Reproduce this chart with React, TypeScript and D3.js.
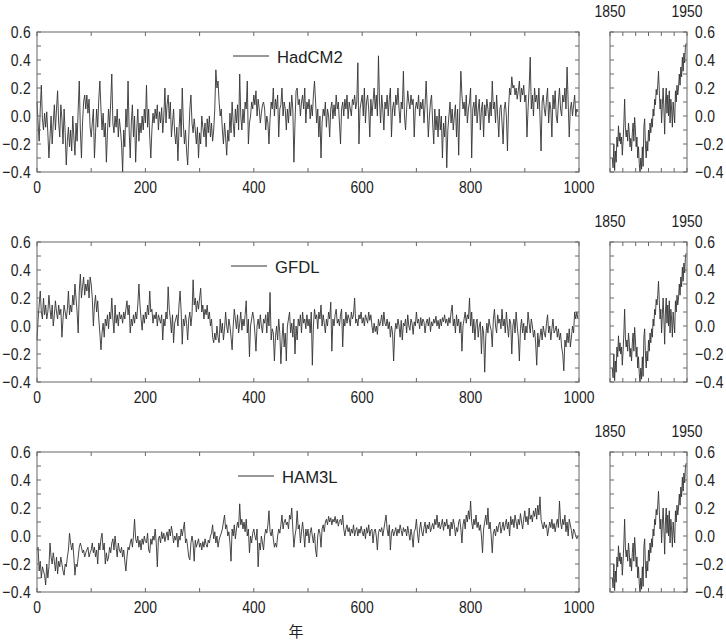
import React from "react";
import * as d3 from "d3";

// Model control runs, sampled every 2 model years (0..998), global mean temperature anomaly (°C)
const years = d3.range(0, 1000, 2);

const hadcm2 = [
  0.10, -0.05, -0.18, 0.05, 0.22, -0.02, -0.10, 0.02, -0.08, 0.03,
  -0.12, -0.30, -0.15, 0.00, -0.20, -0.05, 0.08, -0.10, 0.05, 0.18,
  -0.05, -0.15, 0.08, -0.02, -0.20, 0.05, -0.12, -0.35, -0.18, -0.08,
  -0.22, -0.10, -0.25, 0.00, -0.15, -0.28, -0.05, -0.18, 0.05, 0.25,
  -0.10, -0.30, -0.05, 0.10, 0.15, 0.05, 0.15, 0.02, 0.12, -0.08,
  -0.15, -0.05, 0.05, -0.30, -0.12, 0.05, -0.08, 0.12, 0.25, 0.05,
  -0.10, 0.02, -0.15, -0.05, -0.33, -0.12, 0.05, -0.08, 0.10, 0.30,
  -0.05, -0.12, 0.00, -0.08, 0.05, -0.15, -0.02, -0.10, -0.20, -0.40,
  -0.10, -0.22, 0.05, -0.08, 0.25, -0.10, -0.30, -0.05, 0.08, -0.15,
  0.00, -0.33, -0.10, 0.05, -0.18, -0.05, -0.12, 0.00, -0.10, 0.05,
  -0.05, 0.22, -0.08, 0.05, -0.15, -0.30, -0.10, 0.02, -0.05, 0.05,
  -0.02, 0.08, -0.10, 0.03, -0.05, 0.06, -0.12, 0.00, 0.20, -0.05,
  0.08, 0.15, -0.02, 0.10, -0.15, -0.05, 0.05, -0.12, -0.20, -0.08,
  -0.32, -0.10, 0.05, -0.15, 0.20, -0.05, -0.20, -0.10, -0.25, -0.35,
  -0.15, 0.05, 0.15, -0.05, -0.12, -0.02, -0.10, -0.20, -0.08, -0.30,
  -0.12, -0.20, 0.00, -0.08, -0.15, -0.05, -0.22, -0.02, -0.12, 0.00,
  -0.15, -0.05, -0.18, -0.10, 0.05, 0.33, 0.20, 0.25, 0.10, 0.00,
  0.05, -0.10, -0.20, -0.05, -0.15, -0.28, -0.10, -0.18, 0.02, -0.12,
  0.10, -0.05, -0.15, 0.05, -0.05, 0.08, -0.10, 0.30, 0.00, -0.10,
  0.05, -0.05, 0.10, 0.05, 0.25, -0.20, -0.05, 0.00, 0.10, 0.05,
  0.15, 0.08, 0.18, 0.00, 0.12, 0.05, -0.05, 0.02, 0.08, 0.10,
  0.05, -0.10, 0.00, -0.05, -0.20, -0.02, 0.10, 0.05, 0.20, 0.00,
  0.12, 0.05, 0.15, -0.15, 0.05, 0.08, 0.20, 0.00, 0.10, 0.05,
  -0.10, 0.05, -0.05, 0.10, 0.00, 0.15, 0.05, -0.33, -0.05, 0.18,
  0.20, 0.08, 0.12, 0.00, 0.10, 0.15, 0.05, 0.20, -0.05, 0.10,
  0.05, 0.12, -0.02, 0.08, 0.00, 0.15, 0.25, 0.10, -0.05, 0.05,
  -0.15, 0.00, -0.30, -0.05, 0.05, 0.00, 0.10, -0.08, 0.05, 0.00,
  -0.15, 0.05, 0.10, -0.02, 0.08, 0.00, 0.15, 0.05, 0.10, -0.05,
  -0.20, 0.05, 0.10, 0.00, 0.12, 0.05, 0.15, -0.02, 0.10, 0.05,
  0.00, 0.12, 0.08, 0.15, 0.05, 0.10, 0.38, -0.20, 0.05, 0.10,
  0.15, 0.00, 0.20, -0.05, 0.10, 0.15, 0.05, -0.15, 0.12, 0.00,
  0.10, 0.20, 0.05, 0.15, 0.00, 0.43, 0.10, -0.05, 0.15, 0.05,
  -0.10, 0.10, 0.05, 0.15, 0.00, 0.12, 0.20, -0.15, 0.05, 0.10,
  0.00, 0.15, 0.08, 0.20, 0.05, -0.05, 0.10, 0.05, 0.32, 0.00,
  -0.10, 0.05, 0.18, 0.10, 0.05, 0.15, 0.08, 0.12, -0.15, 0.05,
  0.10, 0.05, 0.15, 0.00, 0.10, 0.05, 0.12, -0.05, 0.08, 0.25,
  0.05, -0.15, 0.00, 0.10, 0.15, -0.05, -0.20, 0.05, -0.10, 0.00,
  -0.15, 0.05, -0.10, 0.00, -0.30, -0.05, -0.15, 0.00, -0.37, -0.10,
  0.00, 0.10, -0.05, 0.05, -0.10, 0.00, 0.08, -0.15, 0.05, -0.28,
  0.05, 0.32, 0.15, 0.05, 0.10, 0.00, 0.15, -0.05, 0.05, 0.10,
  0.20, -0.30, 0.05, 0.10, 0.00, 0.15, -0.05, 0.05, 0.12, -0.10,
  0.05, 0.10, -0.15, 0.08, 0.00, 0.12, 0.05, -0.05, 0.10, 0.00,
  0.25, 0.05, 0.10, -0.05, 0.15, 0.00, -0.15, 0.05, 0.08, -0.05,
  -0.20, 0.05, 0.10, 0.00, -0.25, 0.05, 0.20, 0.15, 0.28, 0.20,
  0.22, 0.15, 0.20, 0.12, 0.18, 0.25, 0.10, 0.20, 0.15, 0.22,
  0.10, 0.15, -0.15, 0.05, 0.20, 0.42, 0.05, 0.15, 0.00, 0.20,
  0.10, 0.15, 0.05, 0.20, 0.00, -0.25, 0.10, 0.15, 0.05, 0.00,
  0.12, 0.20, -0.05, 0.10, 0.05, -0.15, 0.15, 0.05, 0.18, 0.00,
  -0.05, 0.10, 0.20, 0.05, 0.00, 0.15, 0.10, 0.20, 0.05, 0.35,
  0.10, -0.15, 0.05, 0.10, 0.00, 0.08, 0.15, 0.00, 0.05, 0.03,
];

const gfdl = [
  -0.10, 0.05, 0.15, 0.25, 0.10, 0.05, 0.20, 0.08, 0.15, 0.05,
  0.10, 0.22, 0.12, 0.05, 0.15, 0.00, 0.08, 0.18, 0.10, 0.05,
  0.15, 0.08, 0.12, -0.08, 0.05, 0.15, 0.10, 0.05, 0.12, 0.25,
  0.08, 0.15, 0.10, 0.22, 0.15, 0.30, 0.20, 0.10, -0.05, 0.25,
  0.37, 0.20, 0.28, 0.35, 0.22, 0.30, 0.25, 0.33, 0.20, 0.35,
  0.30, 0.20, 0.00, 0.15, 0.22, 0.10, 0.18, 0.05, -0.05, -0.17,
  -0.05, 0.02, -0.08, 0.05, 0.00, 0.08, -0.02, 0.10, 0.05, 0.20,
  0.05, -0.05, 0.15, 0.02, 0.08, 0.00, 0.10, 0.05, 0.08, 0.02,
  0.10, 0.05, 0.12, 0.18, 0.08, 0.15, -0.05, 0.05, 0.00, 0.08,
  0.02, 0.10, 0.05, 0.15, 0.30, 0.15, 0.05, -0.03, 0.08, 0.02,
  0.10, 0.05, 0.15, 0.08, 0.25, 0.10, 0.12, 0.02, 0.08, 0.05,
  0.10, 0.00, 0.08, 0.05, 0.02, 0.08, -0.10, 0.05, 0.00, 0.10,
  0.05, 0.28, 0.12, 0.05, -0.05, 0.08, -0.12, 0.02, 0.05, 0.08,
  0.00, 0.15, 0.25, 0.10, -0.13, 0.05, 0.00, 0.08, 0.02, -0.10,
  0.05, 0.10, 0.00, 0.08, 0.33, 0.15, 0.20, 0.10, 0.18, 0.12,
  0.20, 0.27, 0.10, 0.15, 0.05, 0.12, 0.08, 0.15, 0.05, 0.10,
  0.00, 0.05, -0.08, -0.12, -0.05, -0.10, 0.00, -0.08, -0.12, 0.05,
  -0.05, 0.02, -0.10, -0.02, 0.10, 0.00, -0.05, 0.05, 0.00, -0.08,
  -0.17, 0.00, 0.12, 0.05, -0.02, 0.08, -0.05, 0.02, 0.10, -0.03,
  0.05, 0.00, 0.08, 0.18, -0.05, 0.05, -0.22, 0.00, 0.05, 0.10,
  0.05, -0.05, -0.18, 0.00, 0.05, -0.02, 0.08, 0.00, -0.05, 0.05,
  0.02, 0.08, -0.05, 0.10, 0.00, 0.24, -0.10, -0.02, -0.05, -0.25,
  -0.08, 0.00, -0.10, 0.05, -0.05, -0.27, -0.10, 0.02, -0.15, -0.05,
  -0.25, 0.00, 0.05, 0.10, -0.05, 0.02, -0.08, 0.05, -0.20, 0.00,
  -0.10, 0.05, 0.00, 0.08, -0.05, 0.10, 0.02, 0.05, -0.02, 0.08,
  0.00, 0.05, -0.05, 0.10, -0.28, 0.00, 0.12, 0.05, 0.08, -0.02,
  0.10, 0.05, 0.15, 0.00, 0.08, 0.02, -0.05, 0.05, 0.00, 0.10,
  0.05, 0.17, -0.18, 0.05, 0.00, 0.08, 0.12, 0.02, 0.05, 0.00,
  0.08, 0.12, -0.15, 0.05, 0.00, 0.10, 0.02, 0.08, 0.05, 0.00,
  0.10, 0.05, 0.08, 0.20, 0.02, 0.05, 0.00, 0.08, 0.05, 0.10,
  0.02, 0.06, 0.00, 0.08, 0.05, 0.02, 0.10, 0.04, 0.08, 0.00,
  -0.05, 0.02, -0.04, 0.00, -0.06, 0.05, 0.00, 0.03, 0.08, 0.00,
  0.10, 0.02, 0.00, 0.05, -0.02, 0.03, -0.08, 0.00, -0.05, -0.25,
  -0.05, 0.02, -0.02, 0.05, 0.00, -0.08, 0.04, -0.10, 0.02, 0.00,
  0.05, -0.05, 0.08, 0.00, -0.03, 0.05, 0.02, -0.06, 0.03, 0.00,
  0.10, 0.02, 0.05, -0.02, 0.06, 0.00, 0.05, 0.03, -0.05, 0.02,
  0.05, 0.00, 0.06, -0.04, 0.03, 0.00, 0.05, 0.02, 0.07, 0.00,
  0.04, -0.02, 0.05, 0.00, 0.06, 0.03, 0.08, 0.02, 0.05, 0.00,
  0.06, 0.02, 0.10, 0.15, 0.00, 0.05, -0.05, 0.08, 0.00, 0.05,
  -0.05, 0.03, -0.18, 0.00, 0.05, 0.10, 0.02, 0.08, 0.05, 0.20,
  0.00, 0.10, -0.05, 0.05, -0.10, 0.02, 0.05, -0.08, 0.00, 0.03,
  -0.20, 0.00, -0.05, -0.33, -0.08, 0.02, -0.05, 0.05, 0.00, -0.03,
  -0.15, 0.05, 0.12, 0.00, -0.05, 0.08, 0.02, 0.05, -0.02, 0.12,
  0.00, 0.05, -0.05, 0.10, 0.00, -0.08, 0.05, 0.02, -0.20, 0.00,
  0.05, -0.05, 0.10, 0.00, -0.08, -0.25, -0.02, 0.05, -0.05, 0.02,
  -0.10, 0.00, -0.05, 0.10, 0.02, -0.05, 0.05, 0.00, -0.08, -0.03,
  -0.12, -0.28, -0.05, -0.15, -0.08, -0.02, -0.10, 0.00, -0.05, -0.08,
  0.02, 0.08, -0.05, 0.00, -0.10, -0.02, 0.05, -0.05, -0.03, 0.00,
  -0.08, -0.02, -0.10, -0.05, -0.15, -0.20, -0.32, -0.10, -0.15, -0.05,
  -0.12, -0.02, -0.15, -0.08, 0.00, -0.05, 0.10, 0.05, 0.10, 0.05,
];

const ham3l = [
  -0.10, -0.08, -0.25, -0.18, -0.30, -0.22, -0.25, -0.28, -0.35, -0.20,
  -0.30, -0.22, -0.05, -0.15, -0.20, -0.12, -0.18, -0.25, -0.15, -0.27,
  -0.18, -0.22, -0.15, -0.20, -0.25, -0.28, -0.20, -0.22, -0.15, -0.10,
  0.02, -0.05, -0.10, -0.05, -0.15, -0.28, -0.20, -0.22, -0.15, -0.08,
  -0.05, -0.08, -0.12, -0.10, -0.15, -0.12, -0.10, -0.08, -0.15, -0.12,
  -0.10, -0.05, -0.12, -0.08, -0.15, -0.10, -0.20, -0.05, -0.10, -0.02,
  0.02, -0.10, -0.05, -0.20, -0.12, -0.18, -0.15, -0.08, -0.12, -0.05,
  -0.02, -0.10, 0.00, -0.08, -0.15, -0.05, -0.10, -0.12, -0.08, -0.15,
  -0.10, -0.18, -0.25, -0.15, -0.08, -0.10, -0.05, -0.02, -0.08, 0.00,
  0.12, -0.02, -0.05, 0.00, -0.08, -0.03, -0.10, -0.02, -0.06, 0.00,
  -0.04, -0.05, 0.02, -0.10, -0.12, -0.02, -0.06, 0.00, -0.03, 0.05,
  -0.05, -0.22, -0.02, 0.00, -0.05, 0.03, -0.02, 0.02, -0.04, 0.00,
  0.03, -0.03, 0.05, 0.00, 0.07, 0.02, -0.05, 0.00, -0.03, 0.02,
  -0.08, 0.00, -0.03, 0.05, 0.00, 0.05, 0.10, -0.05, -0.02, -0.08,
  -0.15, -0.17, -0.05, 0.00, -0.05, -0.18, -0.03, -0.08, -0.05, -0.02,
  -0.08, -0.05, -0.10, -0.04, -0.08, -0.02, -0.06, -0.08, -0.03, -0.05,
  0.00, 0.02, 0.08, -0.02, 0.03, -0.05, 0.00, -0.08, -0.03, 0.00,
  0.02, 0.05, 0.10, 0.15, 0.05, 0.08, 0.00, 0.03, -0.05, -0.18,
  0.05, 0.00, 0.08, -0.02, 0.05, 0.10, 0.06, 0.23, 0.08, 0.12,
  0.05, 0.10, 0.03, 0.12, 0.00, 0.05, -0.12, 0.00, -0.05, 0.02,
  0.05, 0.00, -0.03, 0.05, -0.22, -0.05, -0.10, 0.00, -0.05, -0.10,
  0.00, 0.05, 0.02, 0.08, 0.18, 0.03, 0.00, 0.05, -0.02, -0.08,
  -0.05, -0.08, 0.00, 0.05, 0.02, 0.08, 0.15, 0.05, 0.10, 0.12,
  0.08, 0.10, 0.05, 0.15, 0.12, 0.20, 0.05, -0.08, 0.00, 0.05,
  0.18, 0.05, 0.08, -0.05, 0.03, 0.10, 0.02, -0.08, 0.05, 0.00,
  0.05, -0.05, 0.02, 0.06, 0.00, -0.05, 0.02, -0.10, -0.15, 0.00,
  0.05, 0.02, -0.08, 0.05, 0.08, 0.03, 0.10, 0.12, 0.08, 0.14,
  0.10, 0.13, 0.08, 0.12, 0.10, 0.14, 0.09, 0.12, 0.07, 0.11,
  0.12, 0.08, 0.15, 0.05, 0.00, 0.05, 0.08, 0.03, 0.06, 0.00,
  0.05, 0.02, 0.08, 0.00, 0.04, 0.06, 0.00, 0.05, 0.02, 0.07,
  0.03, 0.00, 0.05, -0.02, 0.06, 0.02, 0.08, 0.00, 0.04, 0.05,
  -0.05, 0.03, 0.05, 0.00, -0.10, 0.02, 0.05, 0.03, 0.06, 0.00,
  0.05, 0.10, 0.15, 0.05, 0.00, 0.08, -0.10, 0.02, 0.05, 0.00,
  0.03, 0.06, 0.00, 0.05, 0.02, 0.08, 0.04, 0.00, 0.06, 0.03,
  0.05, 0.00, 0.07, 0.02, -0.03, 0.05, 0.00, -0.08, 0.03, 0.05,
  0.12, 0.02, -0.05, 0.05, 0.10, 0.03, 0.00, 0.06, 0.10, 0.02,
  0.08, 0.05, 0.10, 0.03, 0.06, 0.09, 0.05, 0.12, 0.08, 0.15,
  0.06, 0.10, 0.05, 0.08, 0.12, 0.04, 0.10, 0.07, 0.12, 0.05,
  0.08, 0.00, 0.10, 0.05, 0.12, 0.08, 0.00, 0.06, 0.03, 0.10,
  0.12, 0.05, -0.05, 0.08, 0.12, 0.05, 0.15, 0.10, 0.18, 0.12,
  0.25, 0.10, 0.05, 0.12, 0.08, 0.15, 0.06, 0.10, 0.04, 0.08,
  0.00, -0.12, 0.05, 0.10, 0.15, 0.08, 0.20, 0.05, 0.10, 0.00,
  -0.12, 0.02, 0.05, 0.00, 0.07, 0.03, 0.08, 0.10, 0.02, 0.06,
  0.10, 0.04, 0.08, 0.12, 0.05, 0.10, 0.00, 0.14, 0.08, 0.12,
  0.06, 0.15, 0.10, 0.05, 0.12, 0.08, 0.16, 0.10, 0.05, 0.12,
  0.18, 0.10, 0.14, 0.08, 0.20, 0.12, 0.15, 0.10, 0.18, 0.14,
  0.20, 0.12, 0.22, 0.15, 0.28, 0.12, 0.08, 0.05, 0.10, 0.06,
  0.08, 0.00, 0.05, 0.10, 0.06, 0.12, 0.05, 0.09, 0.03, 0.08,
  0.12, 0.06, 0.25, 0.10, 0.05, 0.12, 0.08, 0.15, 0.03, 0.10,
  0.00, 0.12, 0.08, 0.04, -0.02, 0.05, 0.03, 0.00, -0.02, 0.00,
];

// Observed record shown in the small right-hand panels (same in all three rows)
const obsYears = d3.range(1853, 1950);
const observed = [
  -0.30, -0.37, -0.20, -0.39, -0.25, -0.33, -0.15, -0.22, -0.07, -0.18,
  -0.12, -0.20, -0.15, -0.28, -0.18, -0.05, 0.12, -0.08, -0.15, -0.10,
  -0.18, -0.05, -0.12, -0.22, -0.16, -0.25, -0.12, -0.05, -0.18, -0.01,
  -0.10, -0.22, -0.15, -0.30, -0.22, -0.34, -0.40, -0.30, -0.38, -0.22,
  -0.36, -0.08, -0.02, -0.20, -0.30, -0.18, -0.25, -0.10, -0.18, -0.05,
  -0.12, -0.02, -0.08, 0.05, 0.00, 0.12, 0.08, 0.19, 0.15, 0.22,
  0.32, 0.18, 0.05, 0.12, -0.05, 0.08, 0.20, 0.05, -0.13, 0.10,
  0.20, 0.02, 0.15, 0.00, 0.18, -0.05, 0.12, 0.05, -0.08, 0.10,
  0.02, -0.05, 0.18, 0.10, 0.22, 0.15, 0.20, 0.30, 0.22, 0.35,
  0.28, 0.42, 0.32, 0.45, 0.38, 0.50, 0.52,
];

const modelNames = ["HadCM2", "GFDL", "HAM3L"];
const modelSeries = [hadcm2, gfdl, ham3l];
const xTicks = d3.range(0, 1001, 100);
const xTickLabels = [0, 200, 400, 600, 800, 1000];
const yTicks = d3.range(-4, 7).map((v) => v / 10);
const yTickLabels = [-0.4, -0.2, 0.0, 0.2, 0.4, 0.6];
const obsTickLabels = [1850, 1950];
const xAxisTitle = "年";

const ROW_H = 210;
const MAIN = { left: 37, right: 579 };
const SMALL = { left: 610, right: 687 };
const TOP = 32;
const BOTTOM = 172;
const LEGEND_X = [233, 231, 238];
const FONT = "'Liberation Sans', Arial, 'DejaVu Sans', sans-serif";
const FRAME = "#666";
const LINE = "#333";
const TICK = 4;

const fmt = d3.format(".1f");

function Label({ x, y, anchor, children, size = 17, sx = 0.82, ls = 0.4 }: any) {
  return (
    <text
      transform={`translate(${x},${y}) scale(${sx},1)`}
      textAnchor={anchor}
      fontFamily={FONT}
      fontSize={size}
      letterSpacing={ls}
      fill="#222"
    >
      {children}
    </text>
  );
}

function Row({ idx }: { idx: number }) {
  const oy = idx * ROW_H;
  const top = TOP + oy;
  const bottom = BOTTOM + oy;
  const y = d3.scaleLinear().domain([-0.4, 0.6]).range([bottom, top]);
  const x = d3.scaleLinear().domain([0, 1000]).range([MAIN.left, MAIN.right]);
  const xs = d3.scaleLinear().domain([1850, 1950]).range([SMALL.left, SMALL.right]);
  const smallTicks = d3.range(0, 7).map((i) => 1850 + (i * 100) / 6);

  const data = modelSeries[idx];
  const line = d3
    .line<number>()
    .x((_, i) => x(years[i]))
    .y((d) => y(d));
  const obsLine = d3
    .line<number>()
    .x((_, i) => xs(obsYears[i]))
    .y((d) => y(d));

  const lx = LEGEND_X[idx];
  const ly = 56 + oy;

  return (
    <g>
      {/* main panel */}
      <path d={line(data) || ""} fill="none" stroke={LINE} strokeWidth={0.9} strokeLinejoin="round" />
      <rect x={MAIN.left} y={top} width={MAIN.right - MAIN.left} height={bottom - top} fill="none" stroke={FRAME} strokeWidth={1} />
      {xTicks.map((t) => (
        <g key={"xt" + t}>
          <line x1={x(t)} x2={x(t)} y1={top} y2={top + TICK} stroke={FRAME} />
          <line x1={x(t)} x2={x(t)} y1={bottom} y2={bottom - TICK} stroke={FRAME} />
        </g>
      ))}
      {yTicks.map((t) => (
        <g key={"yt" + t}>
          <line x1={MAIN.left} x2={MAIN.left + TICK} y1={y(t)} y2={y(t)} stroke={FRAME} />
          <line x1={MAIN.right} x2={MAIN.right - TICK} y1={y(t)} y2={y(t)} stroke={FRAME} />
        </g>
      ))}
      {yTickLabels.map((t) => (
        <Label key={"yl" + t} x={31} y={y(t) + 6} anchor="end">
          {fmt(t)}
        </Label>
      ))}
      {xTickLabels.map((t) => (
        <Label key={"xl" + t} x={x(t)} y={bottom + 21} anchor="middle" ls={0}>
          {t}
        </Label>
      ))}
      {/* legend */}
      <line x1={lx} x2={lx + 36} y1={ly} y2={ly} stroke={LINE} strokeWidth={1} />
      <Label x={lx + 44} y={ly + 6.5} anchor="start" size={17} sx={0.98} ls={0}>
        {modelNames[idx]}
      </Label>

      {/* small observed panel */}
      <path d={obsLine(observed) || ""} fill="none" stroke={LINE} strokeWidth={0.9} strokeLinejoin="round" />
      <rect x={SMALL.left} y={top} width={SMALL.right - SMALL.left} height={bottom - top} fill="none" stroke={FRAME} strokeWidth={1} />
      {smallTicks.map((t, i) => (
        <g key={"st" + i}>
          <line x1={xs(t)} x2={xs(t)} y1={top} y2={top + TICK} stroke={FRAME} />
          <line x1={xs(t)} x2={xs(t)} y1={bottom} y2={bottom - TICK} stroke={FRAME} />
        </g>
      ))}
      {yTicks.map((t) => (
        <g key={"syt" + t}>
          <line x1={SMALL.left} x2={SMALL.left + TICK} y1={y(t)} y2={y(t)} stroke={FRAME} />
          <line x1={SMALL.right} x2={SMALL.right - TICK} y1={y(t)} y2={y(t)} stroke={FRAME} />
        </g>
      ))}
      {yTickLabels.map((t) => (
        <Label key={"syl" + t} x={SMALL.right + 8} y={y(t) + 6} anchor="start">
          {fmt(t)}
        </Label>
      ))}
      {obsTickLabels.map((t) => (
        <Label key={"ol" + t} x={xs(t)} y={top - 15} anchor="middle" ls={0}>
          {t}
        </Label>
      ))}
    </g>
  );
}

export default function App() {
  return (
    <svg
      width={726}
      height={644}
      style={{ position: "absolute", left: 0, top: 0, background: "#fff" }}
    >
      <rect x={0} y={0} width={726} height={644} fill="#fff" />
      {modelNames.map((_, i) => (
        <Row key={i} idx={i} />
      ))}
      <text x={296} y={637} textAnchor="middle" fontFamily="'Noto Sans CJK JP', sans-serif" fontSize={15} fill="#222">
        {xAxisTitle}
      </text>
    </svg>
  );
}
